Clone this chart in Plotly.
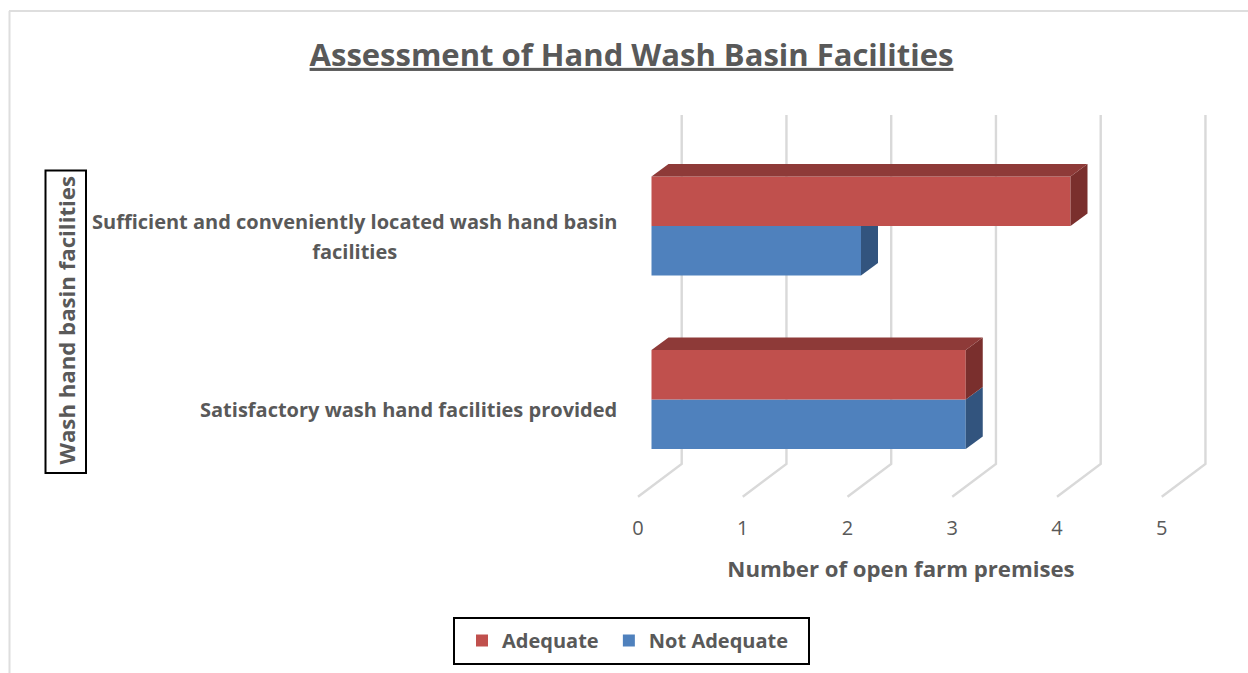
import plotly.graph_objects as go

W, H = 1248, 673

categories = ["Satisfactory wash hand facilities provided",
              "Sufficient and conveniently located wash hand basin<br>facilities"]
adequate = [3, 4]
not_adequate = [3, 2]
tick_values = [0, 1, 2, 3, 4, 5]
title_text = "Assessment of Hand Wash Basin Facilities"
x_title = "Number of open farm premises"
y_title = "Wash hand basin facilities"

FONT = "Open Sans"
TEXT = "#595959"
RED, RED_TOP, RED_SIDE = "#c0504d", "#8e3a38", "#7a2f2d"
BLUE, BLUE_SIDE = "#4f81bd", "#32547e"
GRID = "#d9d9d9"

PX_X = 104.75     # pixels per value
PX_Y = 173.5      # pixels per category
X0 = 651.5        # pixel of value 0 on the bars' front plane
Y0 = 399.5        # pixel of category 0 centre


def vx(p):
    return (p - X0) / PX_X


def vy(p):
    return (Y0 - p) / PX_Y


def fx(p):
    return p / W


def fy(p):
    return 1 - p / H


depth_x = 17 / PX_X
depth_y = 12.5 / PX_Y
bar_w = 49.5 / PX_Y
back_x = vx(681.7)
front_x = vx(638)
floor_front = vy(496.7)
floor_back = vy(464)
wall_top = vy(115)

positions = list(range(len(categories)))
fig = go.Figure()

fig.add_trace(go.Bar(name="Not Adequate", y=positions, x=not_adequate, orientation="h",
                     marker=dict(color=BLUE, line=dict(width=0)), hoverinfo="skip"))
fig.add_trace(go.Bar(name="Adequate\u00a0", y=positions, x=adequate, orientation="h",
                     marker=dict(color=RED, line=dict(width=0)), hoverinfo="skip"))


def poly(xs, ys, color):
    fig.add_trace(go.Scatter(x=xs + xs[:1], y=ys + ys[:1], mode="lines", fill="toself",
                             fillcolor=color, line=dict(width=0, color=color),
                             showlegend=False, hoverinfo="skip"))


for i, c in enumerate(positions):
    # blue side: hidden behind the red front face when the red bar is longer
    v = not_adequate[i]
    lo, hi = c - bar_w, c
    top = hi if adequate[i] > v + depth_x else hi + depth_y
    poly([v, v + depth_x, v + depth_x, v], [lo, lo + depth_y, top, hi], BLUE_SIDE)
for i, c in enumerate(positions):
    v = adequate[i]
    lo, hi = c, c + bar_w
    poly([v, v + depth_x, v + depth_x, v], [lo, lo + depth_y, hi + depth_y, hi], RED_SIDE)
    poly([0, depth_x, v + depth_x, v], [hi, hi + depth_y, hi + depth_y, hi], RED_TOP)

shapes = []
for t in tick_values:
    path = (f"M {t + front_x} {floor_front} L {t + back_x} {floor_back} "
            f"L {t + back_x} {wall_top}")
    shapes.append(dict(type="path", xref="x", yref="y", path=path, layer="below",
                       line=dict(color=GRID, width=2.4)))

# outer chart frame (left and top only)
shapes.append(dict(type="line", xref="paper", yref="paper", x0=fx(9.5), x1=fx(9.5),
                   y0=0, y1=fy(11), line=dict(color="#dedede", width=2)))
shapes.append(dict(type="line", xref="paper", yref="paper", x0=fx(9), x1=1,
                   y0=fy(11), y1=fy(11), line=dict(color="#dedede", width=2)))
# boxes round the legend and the y title
shapes.append(dict(type="rect", xref="paper", yref="paper", x0=fx(454), x1=fx(809),
                   y0=fy(664), y1=fy(618), line=dict(color="black", width=2)))
shapes.append(dict(type="rect", xref="paper", yref="paper", x0=fx(45.5), x1=fx(86),
                   y0=fy(473), y1=fy(170.5), line=dict(color="black", width=2)))

LABEL_SPAN = '<span style="font-size:20px">'
annotations = []
for c, label in zip(positions, categories):
    body = label.replace("<br>", "</span><br>" + LABEL_SPAN)
    annotations.append(dict(
        text=f"<b>{LABEL_SPAN}{body}</span></b>",
        xref="paper", yref="y", x=fx(618.5), y=c, xanchor="right", yanchor="middle",
        align="center", showarrow=False, yshift=-10,
        font=dict(family=FONT, size=23, color=TEXT)))
annotations.append(dict(text=f"<b>{y_title}</b>", xref="paper", yref="paper",
                        x=fx(66), y=fy(320.5), textangle=-90, showarrow=False,
                        xanchor="center", yanchor="middle",
                        font=dict(family=FONT, size=22.2, color=TEXT)))

fig.update_layout(
    width=W, height=H, autosize=False,
    margin=dict(l=0, r=0, t=0, b=0),
    paper_bgcolor="white", plot_bgcolor="white",
    font=dict(family=FONT, color=TEXT),
    title=dict(text=f"<b><u>{title_text}</u></b>", x=fx(631.5), xanchor="center",
               y=fy(55), yanchor="middle", font=dict(family=FONT, size=31, color=TEXT)),
    barmode="group", bargap=1 - 2 * bar_w, bargroupgap=0,
    xaxis=dict(domain=[fx(590), fx(1212)], range=[vx(590), vx(1212)],
               tickvals=[t + front_x for t in tick_values],
               ticktext=[str(t) for t in tick_values],
               showgrid=False, zeroline=False, showline=False, ticks="",
               tickfont=dict(family=FONT, size=20, color=TEXT),
               title=dict(text=f"<b>{x_title}</b>", standoff=21,
                          font=dict(family=FONT, size=22.2, color=TEXT))),
    yaxis=dict(domain=[fy(514), fy(105)], range=[vy(514), vy(105)],
               showticklabels=False, showgrid=False, zeroline=False, showline=False, ticks=""),
    legend=dict(orientation="h", traceorder="reversed", x=fx(462), y=fy(640.5),
                xanchor="left", yanchor="middle", bgcolor="rgba(0,0,0,0)",
                font=dict(family=FONT, size=20, color=TEXT, weight="bold")),
    shapes=shapes, annotations=annotations,
)

fig.write_html("out.html", config=dict(displayModeBar=False),
               post_script="document.body.style.margin='0';document.body.style.overflow='hidden';")
